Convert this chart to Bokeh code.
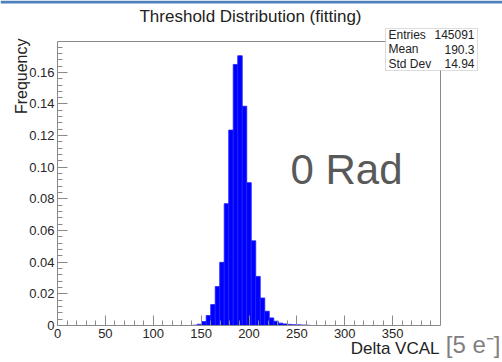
import math
from bokeh.plotting import figure
from bokeh.models import (Range1d, FixedTicker, CustomJSTickFormatter, Label,
                          BoxAnnotation, ColumnDataSource, LinearAxis)
from bokeh.embed import file_html
from bokeh.resources import INLINE

# ---------------- data ----------------
x_min, x_max = 0, 400
n_bins = 85
first_bin = 30
frequency = [0.0002, 0.0008, 0.0025, 0.0063, 0.0132, 0.0246, 0.0399, 0.0770,
             0.1235, 0.1650, 0.1705, 0.1386, 0.0903, 0.0535, 0.0310, 0.0174,
             0.0090, 0.0048, 0.0027, 0.0015, 0.0010, 0.0007, 0.0005, 0.0004,
             0.0003, 0.0002]
y_max = 0.1795
x_ticks = [0, 50, 100, 150, 200, 250, 300, 350]
x_minor = [v for v in range(10, 400, 10)]
y_ticks = [0, 0.02, 0.04, 0.06, 0.08, 0.10, 0.12, 0.14, 0.16]
y_minor = [i * 0.004 for i in range(1, 45)]
title_text = "Threshold Distribution (fitting)"
stats_names = ["Entries", "Mean", "Std Dev"]
stats_values = ["145091", "190.3", "14.94"]
annotation_text = "0 Rad"
x_title = "Delta VCAL"
x_unit = "[5 e\u207b]"
y_title = "Frequency"

bw = (x_max - x_min) / n_bins
lefts = [x_min + (first_bin + i) * bw for i in range(len(frequency))]
rights = [l + bw for l in lefts]
src = ColumnDataSource(dict(left=lefts, right=rights, top=frequency,
                            bottom=[0] * len(frequency)))

# ---------------- layout (pixel geometry of the inner frame) ----------------
W, H = 502, 362
FL, FR, FT, FB = 57, 440, 41, 325
dxp = (x_max - x_min) / (FR - FL)
dyp = y_max / (FB - FT)

def dx(px):
    return x_min + (px - FL) * dxp

def dy(py):
    return (FB - py) * dyp

FONT = "Liberation Sans"
GREY = "#8a8a8a"
TXT = "#222222"

p = figure(width=W, height=H, output_backend="svg", toolbar_location=None,
           x_range=Range1d(dx(0), dx(W)), y_range=Range1d(dy(H), dy(0)),
           min_border=0)
p.background_fill_color = "white"
p.border_fill_color = "white"
p.outline_line_color = None
p.grid.visible = False

p.quad(left="left", right="right", top="top", bottom="bottom", source=src,
       fill_color="#0000ff", line_color="#1f1fff", line_width=0.8)

xa, ya = p.xaxis[0], p.yaxis[0]
xa.fixed_location = 0
ya.fixed_location = x_min
xa.bounds = (x_min, x_max)
ya.bounds = (0, y_max)
for ax in (xa, ya):
    ax.axis_line_color = GREY
    ax.major_tick_line_color = GREY
    ax.minor_tick_line_color = GREY
    ax.major_tick_in = 10
    ax.major_tick_out = 0
    ax.minor_tick_in = 5
    ax.minor_tick_out = 0
    ax.major_label_text_font = FONT
    ax.major_label_text_font_size = "13px"
    ax.major_label_text_color = "#262626"
    ax.major_label_standoff = 3
xa.ticker = FixedTicker(ticks=x_ticks, minor_ticks=x_minor)
ya.ticker = FixedTicker(ticks=y_ticks, minor_ticks=y_minor)
ya.formatter = CustomJSTickFormatter(
    code="return tick == 0 ? '0' : tick.toFixed(2);")

# plain frame lines at top and right
for loc, fixed, bounds in (("above", y_max, (x_min, x_max)),
                           ("right", x_max, (0, y_max))):
    fa = LinearAxis(fixed_location=fixed, bounds=bounds,
                    ticker=FixedTicker(ticks=[]), axis_line_color=GREY,
                    major_tick_in=0, major_tick_out=0, minor_tick_in=0,
                    minor_tick_out=0, major_label_text_font_size="0px")
    p.add_layout(fa, loc)

def label(x, y, text, **kw):
    p.add_layout(Label(x=dx(x), y=dy(y), text=text, text_font=FONT, **kw))

# slide border strip at the very top
p.add_layout(BoxAnnotation(left=dx(0), right=dx(W), top=dy(0), bottom=dy(3),
                           fill_color="#4f81bd", fill_alpha=1,
                           line_color=None))

# title
label(250, 16, title_text, text_align="center", text_baseline="middle",
      text_font_size="17px", text_color=TXT)
# y title (rotated, right end at top)
label(21, 38, y_title, angle=math.pi / 2, text_align="right",
      text_baseline="alphabetic", text_font_size="16px", text_color=TXT)
# x title
label(439, 348, x_title, text_align="right", text_baseline="middle",
      text_font_size="17px", text_color=TXT)
label(500, 344, x_unit, text_align="right", text_baseline="middle",
      text_font_size="24px", text_color="#7f7f7f")
# big annotation
label(346, 169, annotation_text, text_align="center", text_baseline="middle",
      text_font_size="42px", text_color="#595959")

# stats box
p.add_layout(BoxAnnotation(left=dx(385), right=dx(477), top=dy(28),
                           bottom=dy(70), fill_color="white", fill_alpha=1,
                           line_color=GREY, line_width=1))
for i, (n, v) in enumerate(zip(stats_names, stats_values)):
    yy = 34 + i * 14.5
    label(388, yy, n, text_align="left", text_baseline="middle",
          text_font_size="12px", text_color=TXT)
    label(474, yy, v, text_align="right", text_baseline="middle",
          text_font_size="12px", text_color=TXT)

open("out.html", "w").write(file_html(p, INLINE))
